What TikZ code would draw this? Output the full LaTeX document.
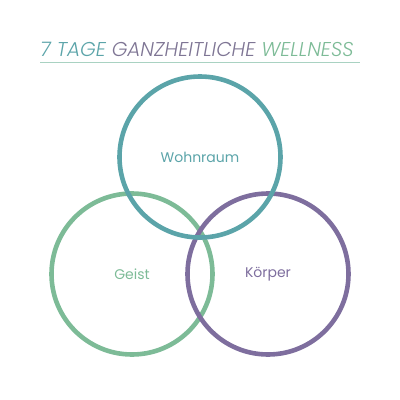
\documentclass[tikz,border=0pt]{standalone}
\usepackage{fontspec}
\setmainfont{Poppins}[UprightFont=*-Light,ItalicFont=*-LightItalic]
\newfontfamily\labelfont{Poppins}
\usetikzlibrary{positioning}

\definecolor{wohnteal}{HTML}{5BA4A9}
\definecolor{geistgreen}{HTML}{7DBB97}
\definecolor{koerperpurple}{HTML}{7E6E9E}
\definecolor{titlegray}{HTML}{7E7594}
\definecolor{rulegreen}{HTML}{A9D2C2}

\tikzset{
  ring/.style={circle,minimum size=161pt,inner sep=0pt,line width=4.6pt,font=\labelfont\fontsize{14}{16}\selectfont},
}

\begin{document}
\begin{tikzpicture}[x=1pt,y=-1pt]
  \useasboundingbox (0,0) rectangle (400,400);
  % title
  \node[anchor=base west,inner sep=0pt,font=\fontsize{20}{22}\selectfont\itshape] (title) at (40,56)
    {\textcolor{wohnteal}{7 TAGE} \textcolor{titlegray}{GANZHEITLICHE} \textcolor{geistgreen}{WELLNESS}};
  \coordinate (ruleL) at (40,62);
  \coordinate (ruleR) at (360,62);
  \draw[rulegreen,line width=1pt] (ruleL) -- (ruleR);
  % circles
  \node[ring,draw=geistgreen,text=geistgreen] (geist) at (132,274) {Geist};
  \node[ring,draw=koerperpurple,text=koerperpurple] (koerper) at (268,274) {Körper};
  \node[ring,draw=wohnteal,text=wohnteal] (wohnraum) at (200,157) {Wohnraum};
\end{tikzpicture}
\end{document}
